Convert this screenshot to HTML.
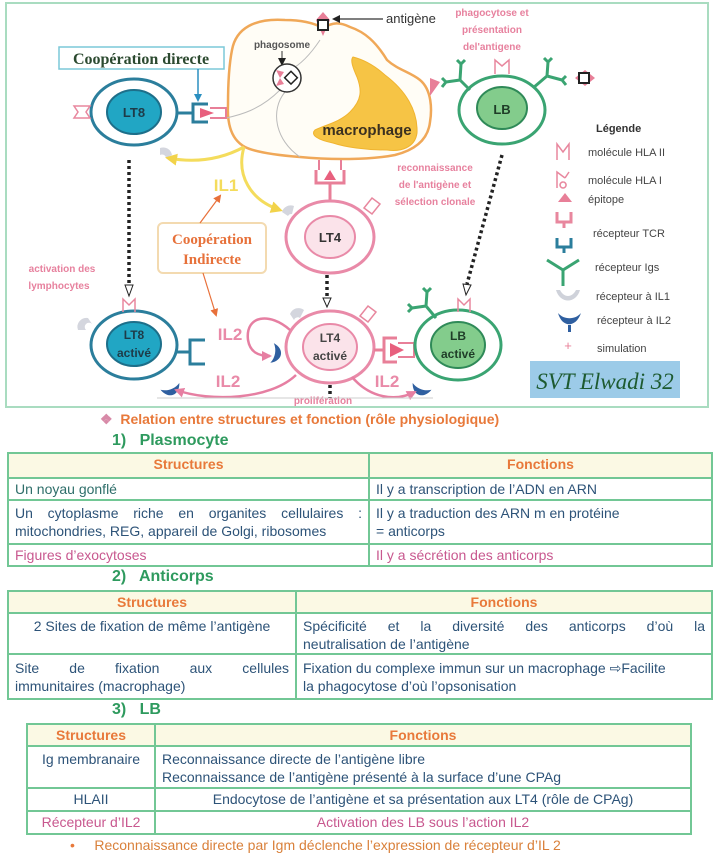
<!DOCTYPE html>
<html><head><meta charset="utf-8"><style>
*{margin:0;padding:0;box-sizing:border-box}
body{width:720px;height:855px;background:#fff;position:relative;overflow:hidden;font-family:"Liberation Sans",sans-serif}
.t{position:absolute;border-collapse:collapse;font-size:14px;color:#2d5378}
.t td{border:2px solid #72c795;padding:1px 6px 0 6px;vertical-align:top;line-height:18px}
.t tr.h td{background:#fbf9e4;color:#e8793a;font-weight:bold;text-align:center;line-height:18px;padding:1px 6px 0 6px}
.pk{color:#c8588f}
.j{text-align:justify;text-align-last:justify}
.hd{position:absolute;font-weight:bold;color:#2e9a5e;font-size:16px}
</style></head><body>
<svg width="720" height="410" style="position:absolute;left:0;top:0" font-family="Liberation Sans, sans-serif">
<defs>
<marker id="ab" markerUnits="userSpaceOnUse" markerWidth="8" markerHeight="8" refX="6" refY="4" orient="auto"><path d="M0,0 L8,4 L0,8 z" fill="#222"/></marker>
<marker id="ao" markerUnits="userSpaceOnUse" markerWidth="8" markerHeight="8" refX="6" refY="4" orient="auto"><path d="M0,0 L8,4 L0,8 z" fill="#e8703a"/></marker>
<marker id="ay" markerUnits="userSpaceOnUse" markerWidth="12" markerHeight="12" refX="9" refY="6" orient="auto"><path d="M0,0 L12,6 L0,12 z" fill="#f2d34a"/></marker>
<marker id="ap" markerUnits="userSpaceOnUse" markerWidth="10" markerHeight="10" refX="8" refY="5" orient="auto"><path d="M0,0 L10,5 L0,10 z" fill="#e67fa2"/></marker>
<marker id="abl" markerUnits="userSpaceOnUse" markerWidth="8" markerHeight="8" refX="6" refY="4" orient="auto"><path d="M0,0 L8,4 L0,8 z" fill="#2a8fc0"/></marker>
</defs>
<rect x="6" y="3" width="702" height="404" fill="#fff" stroke="#a9dcc0" stroke-width="2"/>
<path d="M232,50 C236,28 255,18 285,20 C300,20 312,22 323,28 C333,22 340,22 350,27 C365,32 376,42 387,60 C398,70 410,72 420,80 C432,90 432,110 430,122 C428,140 415,150 395,155 C370,160 330,160 300,157 C275,155 255,152 245,147 C232,140 227,125 228,105 C228,85 229,65 232,50 Z" fill="#fffdf6" stroke="#f0a858" stroke-width="2.5"/>
<path d="M353,57 C365,60 375,66 385,75 C405,90 418,110 417,133 C415,148 400,152 387,150 C365,150 345,147 333,143 C318,140 310,135 315,130 C325,125 340,122 350,112 C362,100 362,90 357,77 C353,68 350,60 353,57 Z" fill="#f6c445" stroke="#f0b430" stroke-width="1"/>
<text x="367" y="135" font-size="15" font-weight="bold" fill="#3a3020" text-anchor="middle">macrophage</text>
<path d="M320,40 C310,55 300,65 290,70 M280,90 C260,110 240,115 226,118 M285,92 C270,110 275,140 300,157" stroke="#bbb" fill="none" stroke-width="1"/>
<text x="282" y="48" font-size="10" font-weight="bold" fill="#555" text-anchor="middle">phagosome</text>
<line x1="282" y1="51" x2="282" y2="64" stroke="#333" marker-end="url(#ab)"/>
<circle cx="287" cy="78" r="14" fill="#fff" stroke="#333" stroke-width="1.5"/>
<path d="M276,70 L284,72 L280,78 Z M276,86 L284,84 L280,78 Z" fill="#e87f98"/>
<rect x="287" y="73" width="9" height="9" transform="rotate(45 291 77)" fill="#fff" stroke="#222" stroke-width="1.5"/>
<path d="M323,12 L330,20 L323,36 L316,20 Z" fill="#e87f98"/>
<rect x="318" y="20" width="10" height="10" fill="#fff" stroke="#222" stroke-width="2"/>
<line x1="383" y1="19" x2="334" y2="19" stroke="#333" stroke-width="1.2" marker-end="url(#ab)"/>
<text x="386" y="23" font-size="13" fill="#333">antigène</text>
<g font-size="10" font-weight="bold" fill="#e7819e" text-anchor="middle">
<text x="492" y="16">phagocytose et</text><text x="492" y="33">présentation</text><text x="492" y="50">del'antigene</text>
<text x="435" y="171">reconnaissance</text><text x="435" y="188">de  l'antigène et</text><text x="435" y="205">sélection clonale</text>
<text x="62" y="272">activation des</text><text x="59" y="289">lymphocytes</text>
<text x="323" y="404">prolifération</text>
</g>
<rect x="59" y="47" width="165" height="22" fill="#fff" stroke="#7cc8d8" stroke-width="1.5"/>
<text x="141" y="64" font-family="Liberation Serif, serif" font-size="16" font-weight="bold" fill="#2c4a30" text-anchor="middle">Coopération directe</text>
<line x1="198" y1="69" x2="198" y2="100" stroke="#2a8fc0" stroke-width="1.5" marker-end="url(#abl)"/>
<ellipse cx="134" cy="112" rx="43" ry="33" fill="#fff" stroke="#2b7e9c" stroke-width="3"/>
<ellipse cx="134" cy="112" rx="27" ry="22" fill="#21a6c4" stroke="#1d6f8a" stroke-width="2"/>
<text x="134" y="117" font-size="13" font-weight="bold" fill="#1e3b48" text-anchor="middle">LT8</text>
<path d="M74,106 L90,106 L86,112 L90,118 L74,118 L78,112 Z" fill="#fff" stroke="#e8879e" stroke-width="1.5"/>
<line x1="177" y1="113" x2="192" y2="113" stroke="#2b7e9c" stroke-width="3"/>
<path d="M208,104 L193,104 L193,122 L208,122" fill="none" stroke="#2b7e9c" stroke-width="3"/>
<path d="M200,108 L214,113 L200,118 Z" fill="#e8607e"/>
<path d="M210,108 L226,108 L226,118 L210,118" fill="none" stroke="#e87f98" stroke-width="2"/>
<path d="M160,148 A9,9 0 0 1 172,155 L166,158 A4,4 0 0 0 160,155 Z" fill="#d4d6de"/>
<path d="M244,147 C220,160 195,163 168,158" stroke="#f4dc5c" stroke-width="3" fill="none" marker-end="url(#ay)"/>
<path d="M244,147 C236,175 250,200 280,210" stroke="#f4dc5c" stroke-width="3" fill="none" marker-end="url(#ay)"/>
<text x="226" y="191" font-size="17" font-weight="bold" fill="#f4dc5c" text-anchor="middle">IL1</text>
<ellipse cx="502" cy="110" rx="43" ry="34" fill="#fff" stroke="#3aa472" stroke-width="3"/>
<ellipse cx="502" cy="108" rx="25" ry="21" fill="#83cc8c" stroke="#2f8a58" stroke-width="2"/>
<text x="502" y="114" font-size="13" font-weight="bold" fill="#1f3d28" text-anchor="middle">LB</text>
<path d="M470,90 L460,80 M460,80 L446,82 M460,80 L461,64 M446,82 L442,78 M446,82 L442,87 M461,64 L457,60 M461,64 L465,60" stroke="#3aa472" stroke-width="3" fill="none"/>
<path d="M533,88 L547,76 M547,76 L562,80 M547,76 L548,62 M562,80 L566,76 M562,80 L566,85 M548,62 L544,58 M548,62 L552,58" stroke="#3aa472" stroke-width="3" fill="none"/>
<path d="M495,74 L495,60 L502,66 L509,60 L509,74" fill="none" stroke="#e8879e" stroke-width="1.5"/>
<path d="M430,78 L440,82 L430,96 Z" fill="#e87f98"/>
<path d="M575,78 L585,70 L595,78 L585,86 Z" fill="#e87f98"/>
<rect x="579" y="73" width="10" height="10" fill="#fff" stroke="#222" stroke-width="2"/>
<path d="M319,160 L319,170 M341,160 L341,170" stroke="#e87f98" stroke-width="2"/>
<path d="M316,170 L316,183 L344,183 L344,170" fill="none" stroke="#e87f98" stroke-width="3"/>
<path d="M324,180 L330,170 L336,180 Z" fill="#e8607e"/>
<line x1="330" y1="183" x2="330" y2="201" stroke="#e87f98" stroke-width="3"/>
<ellipse cx="330" cy="237" rx="44" ry="36" fill="#fff" stroke="#e98aa8" stroke-width="3"/>
<ellipse cx="330" cy="237" rx="25" ry="21" fill="#fbe3ea" stroke="#e98aa8" stroke-width="2"/>
<text x="330" y="242" font-size="13" font-weight="bold" fill="#333" text-anchor="middle">LT4</text>
<path d="M282,212 A9,9 0 0 1 294,206 L292,214 A4,4 0 0 0 288,216 Z" fill="#d4d6de"/>
<path d="M364,208 L372,198 L380,204 L372,214 Z" fill="#fff" stroke="#e8879e" stroke-width="1.5"/>
<rect x="158" y="223" width="108" height="50" rx="5" fill="#fff" stroke="#f3dab0" stroke-width="2"/>
<text x="212" y="244" font-family="Liberation Serif, serif" font-size="15" font-weight="bold" fill="#e7713a" text-anchor="middle">Coopération</text>
<text x="212" y="264" font-family="Liberation Serif, serif" font-size="15" font-weight="bold" fill="#e7713a" text-anchor="middle">Indirecte</text>
<line x1="200" y1="223" x2="220" y2="196" stroke="#e8703a" stroke-width="1.2" marker-end="url(#ao)"/>
<line x1="203" y1="273" x2="216" y2="315" stroke="#e8703a" stroke-width="1.2" marker-end="url(#ao)"/>
<g stroke="#222" stroke-width="3.5" stroke-dasharray="3,3" fill="none">
<line x1="129" y1="160" x2="129" y2="285"/><line x1="327" y1="275" x2="327" y2="298"/><line x1="502" y1="155" x2="467" y2="284"/><line x1="330" y1="385" x2="330" y2="398"/>
</g>
<path d="M125,285 L129,296 L133,285 Z M323,298 L327,307 L331,298 Z M463,284 L466,295 L471,285 Z" fill="#fff" stroke="#222"/>
<ellipse cx="134" cy="345" rx="43" ry="34" fill="#fff" stroke="#2b7e9c" stroke-width="3"/>
<ellipse cx="134" cy="344" rx="27" ry="22" fill="#21a6c4" stroke="#1d6f8a" stroke-width="2"/>
<text x="134" y="339" font-size="12" font-weight="bold" fill="#1e3b48" text-anchor="middle">LT8</text>
<text x="134" y="357" font-size="12" font-weight="bold" fill="#1e3b48" text-anchor="middle">activé</text>
<path d="M123,312 L123,299 L129,305 L135,299 L135,312" fill="none" stroke="#e8879e" stroke-width="1.5"/>
<path d="M78,330 A9,9 0 0 1 88,318 L92,324 A4,4 0 0 0 86,330 Z" fill="#d4d6de"/>
<line x1="177" y1="352" x2="190" y2="352" stroke="#2b7e9c" stroke-width="3"/>
<path d="M205,340 L190,340 L190,364 L205,364" fill="none" stroke="#2b7e9c" stroke-width="3"/>
<ellipse cx="330" cy="347" rx="44" ry="36" fill="#fff" stroke="#e98aa8" stroke-width="3"/>
<ellipse cx="330" cy="347" rx="27" ry="23" fill="#fbe3ea" stroke="#e98aa8" stroke-width="2"/>
<text x="330" y="342" font-size="12" font-weight="bold" fill="#444" text-anchor="middle">LT4</text>
<text x="330" y="360" font-size="12" font-weight="bold" fill="#444" text-anchor="middle">activé</text>
<path d="M290,314 A9,9 0 0 1 304,310 L300,318 A4,4 0 0 0 294,320 Z" fill="#d4d6de"/>
<path d="M360,316 L368,306 L376,312 L368,322 Z" fill="#fff" stroke="#e8879e" stroke-width="1.5"/>
<line x1="374" y1="350" x2="384" y2="350" stroke="#e87f98" stroke-width="3"/>
<path d="M397,338 L384,338 L384,362 L397,362" fill="none" stroke="#e87f98" stroke-width="3"/>
<path d="M390,343 L404,350 L390,357 Z" fill="#e8607e"/>
<path d="M398,343 L414,343 L414,357 L398,357" fill="none" stroke="#e87f98" stroke-width="2"/>
<ellipse cx="458" cy="345" rx="43" ry="35" fill="#fff" stroke="#3aa472" stroke-width="3"/>
<ellipse cx="458" cy="345" rx="27" ry="23" fill="#83cc8c" stroke="#2f8a58" stroke-width="2"/>
<text x="458" y="340" font-size="12" font-weight="bold" fill="#1f3d28" text-anchor="middle">LB</text>
<text x="458" y="358" font-size="12" font-weight="bold" fill="#1f3d28" text-anchor="middle">activé</text>
<path d="M436,318 L426,306 M426,306 L412,308 M426,306 L427,292 M412,308 L408,304 M412,308 L408,312 M427,292 L423,288 M427,292 L431,288" stroke="#3aa472" stroke-width="3" fill="none"/>
<path d="M458,312 L458,299 L464,305 L470,299 L470,312" fill="none" stroke="#e8879e" stroke-width="1.5"/>
<path d="M268,348 C272,360 284,360 288,348 C282,352 274,352 268,348 Z" fill="#2f5fa0" transform="rotate(-80 278 354)"/>
<path d="M162,386 C166,398 178,398 182,386 C176,390 168,390 162,386 Z" fill="#2f5fa0" transform="rotate(-20 172 392)"/>
<path d="M410,386 C414,398 426,398 430,386 C424,390 416,390 410,386 Z" fill="#2f5fa0" transform="rotate(20 420 392)"/>
<path d="M290,330 C270,312 245,315 248,340 C250,352 258,356 270,356" stroke="#e67fa2" stroke-width="2.5" fill="none" marker-end="url(#ap)"/>
<path d="M296,375 C270,400 210,402 176,390" stroke="#e67fa2" stroke-width="2.5" fill="none" marker-end="url(#ap)"/>
<path d="M352,377 C370,398 395,402 415,392" stroke="#e67fa2" stroke-width="2.5" fill="none" marker-end="url(#ap)"/>
<line x1="157" y1="398" x2="433" y2="398" stroke="#ccc" stroke-width="1"/>
<g font-size="17" font-weight="bold" fill="#e98aa8" text-anchor="middle">
<text x="230" y="340">IL2</text><text x="228" y="387">IL2</text><text x="387" y="387">IL2</text>
</g>
<text x="596" y="132" font-size="11" font-weight="bold" fill="#333">Légende</text>
<g font-size="11" fill="#444">
<text x="588" y="156">molécule HLA II</text><text x="588" y="184">molécule HLA I</text><text x="588" y="203">épitope</text>
<text x="593" y="237">récepteur TCR</text><text x="595" y="271">récepteur Igs</text><text x="596" y="300">récepteur à IL1</text>
<text x="597" y="324">récepteur à IL2</text><text x="597" y="352">simulation</text>
</g>
<path d="M557,160 L557,144 L563,152 L569,144 L569,160" fill="none" stroke="#e8879e" stroke-width="1.5"/>
<path d="M557,188 L557,172 L565,178 M565,178 L569,172 M563,182 A3,3 0 1 0 563.1,182" fill="none" stroke="#e8879e" stroke-width="1.5"/>
<path d="M558,202 L565,193 L572,202 Z" fill="#e87f98"/>
<path d="M557,212 L557,222 L571,222 L571,212 M564,222 L564,228" fill="none" stroke="#e8879e" stroke-width="3"/>
<path d="M557,238 L557,247 L571,247 L571,238 M564,247 L564,253" fill="none" stroke="#2b7e9c" stroke-width="3"/>
<path d="M547,260 L563,270 L579,260 M563,270 L563,286" fill="none" stroke="#3aa472" stroke-width="3"/>
<path d="M556,290 C560,304 576,304 580,290 L576,290 C572,298 564,298 560,290 Z" fill="#cfd2da"/>
<path d="M558,313 C562,328 576,328 581,313 C575,320 564,320 558,313 Z M568,325 L568,332 L571,332 L571,325Z" fill="#2f5fa0"/>
<text x="568" y="350" font-size="13" fill="#e87f98" text-anchor="middle">+</text>
<rect x="530" y="361" width="150" height="37" fill="#9ccbe8"/>
<text x="605" y="389" font-family="Liberation Serif, serif" font-style="italic" font-size="23" fill="#1d5a30" text-anchor="middle">SVT Elwadi 32</text>
</svg>

<div style="position:absolute;left:100px;top:411px;font-size:14px;font-weight:bold;color:#e8793a"><span style="color:#d88aa8">❖</span>&nbsp; Relation entre structures et fonction (rôle physiologique)</div>
<div class="hd" style="left:112px;top:432px">1)&nbsp;&nbsp; Plasmocyte</div>
<table class="t" style="left:7px;top:452px;width:706px">
<tr class="h" style="height:25px"><td style="width:361px">Structures</td><td>Fonctions</td></tr>
<tr style="height:22px"><td style="color:#2e6e6a">Un noyau gonflé</td><td>Il y a transcription de l’ADN en ARN</td></tr>
<tr style="height:44px"><td style="padding-top:3px"><div class="j">Un cytoplasme riche en organites cellulaires :</div>mitochondries, REG, appareil de Golgi, ribosomes</td><td style="padding-top:3px">Il y a traduction des ARN m en protéine<br>= anticorps</td></tr>
<tr style="height:22px"><td class="pk">Figures d’exocytoses</td><td class="pk">Il y a sécrétion des anticorps</td></tr>
</table>
<div class="hd" style="left:112px;top:568px">2)&nbsp;&nbsp; Anticorps</div>
<table class="t" style="left:7px;top:590px;width:706px">
<tr class="h" style="height:22px"><td style="width:288px">Structures</td><td>Fonctions</td></tr>
<tr style="height:41px"><td style="text-align:center;padding-top:3px">2 Sites de fixation de même l’antigène</td><td style="padding-top:3px"><div class="j">Spécificité et la diversité des anticorps d’où la</div>neutralisation de l’antigène</td></tr>
<tr style="height:45px"><td style="padding-top:4px"><div class="j">Site de fixation aux cellules</div>immunitaires (macrophage)</td><td style="padding-top:4px">Fixation du complexe immun sur un macrophage ⇨Facilite<br>la phagocytose d’où l’opsonisation</td></tr>
</table>
<div class="hd" style="left:112px;top:701px">3)&nbsp;&nbsp; LB</div>
<table class="t" style="left:26px;top:723px;width:666px">
<tr class="h" style="height:22px"><td style="width:128px">Structures</td><td>Fonctions</td></tr>
<tr style="height:42px"><td style="text-align:center;padding-top:3px">Ig membranaire</td><td style="padding-top:3px">Reconnaissance directe de l’antigène libre<br>Reconnaissance de l’antigène présenté à la surface d’une CPAg</td></tr>
<tr style="height:23px"><td style="text-align:center">HLAII</td><td style="text-align:center">Endocytose de l’antigène et sa présentation aux LT4 (rôle de CPAg)</td></tr>
<tr style="height:23px"><td class="pk" style="text-align:center">Récepteur d’IL2</td><td class="pk" style="text-align:center">Activation des LB sous l’action IL2</td></tr>
</table>
<div style="position:absolute;left:70px;top:837px;font-size:14px;color:#d9803a"><span style="color:#e8793a">•</span>&nbsp;&nbsp;&nbsp;&nbsp; Reconnaissance directe par Igm déclenche l’expression de récepteur d’IL 2</div>
</body></html>
